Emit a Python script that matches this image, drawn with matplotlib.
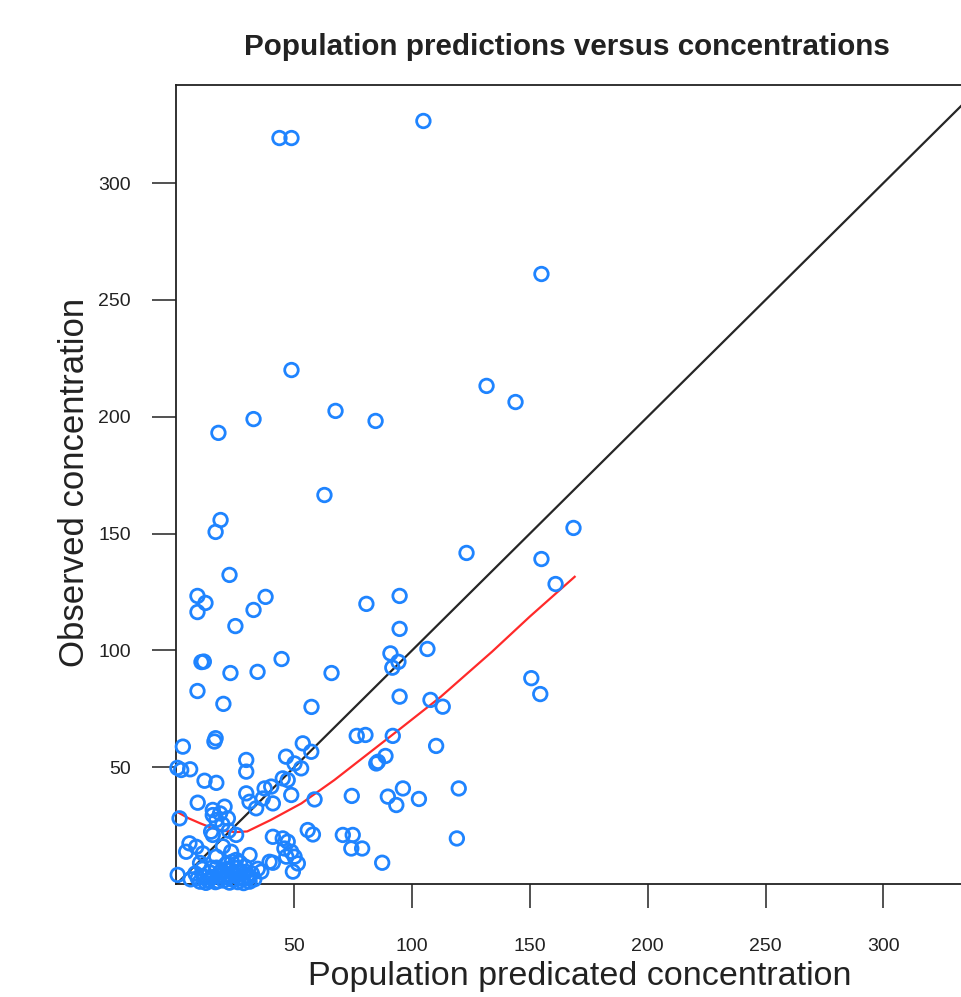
import matplotlib
matplotlib.use("Agg")
import matplotlib.pyplot as plt

# Population-predicted vs observed concentrations
pred = [43.7, 48.8, 104.8, 154.9, 48.8, 131.6, 143.9, 67.5, 84.5, 32.7,
        17.8, 62.8, 18.7, 16.6, 168.5, 123.1, 154.9, 160.9, 22.5, 8.9,
        12.3, 8.9, 37.8, 32.7, 94.7, 80.6, 25.0, 94.7, 106.5, 10.6,
        11.6, 22.9, 34.4, 44.6, 65.8, 8.9, 19.9, 57.3, 90.8, 94.2,
        91.6, 94.7, 107.8, 113.0, 150.6, 154.4, 110.2, 76.5, 80.2, 91.8,
        88.7, 85.5, 84.8, 53.6, 57.2, 52.9, 46.5, 29.6, 29.6, 50.1,
        45.1, 47.2, 40.2, 37.4, 48.7, 29.6, 31.0, 36.6, 40.9, 58.6,
        74.4, 89.7, 96.1, 93.3, 102.9, 119.8, 55.7, 57.9, 70.6, 74.8,
        74.2, 78.8, 119.0, 87.3, 45.1, 47.2, 45.8, 48.7, 50.1, 51.5,
        49.4, 46.6, 2.7, 16.6, 16.1, 2.0, 5.8, 0.4, 11.9, 16.9,
        9.0, 15.4, 20.4, 15.4, 16.9, 21.8, 1.3, 15.4, 25.3, 22.2,
        5.5, 8.4, 4.1, 11.2, 23.2, 31.0, 25.3, 16.9, 40.9, 33.8,
        36.0, 39.5, 40.9, 0.5, 19.7, 14.7, 18.5, 19.5,
        6.0, 8.0, 10.0, 11.0, 12.0, 13.5, 14.0, 15.5, 16.5, 17.0,
        18.0, 19.0, 20.0, 21.0, 22.0, 23.0, 24.0, 25.0, 26.0, 27.0,
        28.0, 29.0, 30.0, 31.0, 32.0, 33.0, 34.5, 23.5, 10.0, 27.0,
        9.0, 12.5, 14.5, 17.5, 20.5, 22.5, 24.5, 26.5, 28.5, 30.5,
        18.5, 21.5, 25.5, 29.5, 15.0]
obs = [319.3, 319.3, 326.6, 261.1, 220.0, 213.2, 206.3, 202.5, 198.2, 199.0,
       193.1, 166.5, 155.8, 150.7, 152.4, 141.7, 139.1, 128.4, 132.3, 123.3,
       120.3, 116.4, 122.9, 117.3, 123.3, 119.9, 110.4, 109.2, 100.6, 95.0,
       95.2, 90.3, 90.8, 96.3, 90.3, 82.6, 77.1, 75.8, 98.7, 95.1,
       92.6, 80.2, 78.8, 75.9, 88.1, 81.3, 59.1, 63.4, 63.8, 63.4,
       54.8, 52.3, 51.6, 60.2, 56.6, 49.5, 54.5, 53.1, 48.1, 51.6,
       45.2, 44.5, 41.7, 40.9, 38.1, 38.8, 35.2, 36.6, 34.5, 36.2,
       37.7, 37.4, 40.9, 33.8, 36.4, 40.9, 23.1, 21.2, 21.0, 21.0,
       15.2, 15.2, 19.5, 9.1, 19.5, 18.1, 15.2, 13.8, 11.7, 8.8,
       5.3, 11.7, 58.8, 62.4, 61.0, 48.8, 49.1, 49.7, 44.2, 43.3,
       34.8, 31.7, 33.1, 29.5, 27.4, 28.1, 28.1, 21.0, 21.0, 22.8,
       17.4, 15.9, 13.8, 13.1, 13.8, 12.4, 10.3, 11.7, 20.2, 32.4,
       5.3, 9.5, 9.1, 3.9, 16.1, 22.4, 30.2, 25.5,
       2.0, 4.5, 1.0, 6.5, 3.0, 1.5, 5.0, 3.0, 0.8, 7.0,
       3.5, 5.5, 1.5, 8.5, 4.0, 6.0, 1.8, 3.5, 0.8, 5.5,
       2.2, 7.5, 3.5, 1.0, 4.5, 2.0, 6.5, 9.5, 9.0, 9.0,
       2.5, 0.5, 2.5, 1.2, 3.0, 0.6, 4.0, 2.8, 0.4, 2.6,
       5.0, 6.5, 6.8, 5.2, 7.0]

# Smoothed trend through the data
trend_x = [0, 5, 10, 15, 20, 25, 30, 40, 53, 67, 81, 95, 112, 134, 150, 169]
trend_y = [31, 28.2, 26, 24, 22.8, 22.2, 22.5, 27.4, 34.5, 44.5, 55.5, 66.5,
           80, 99.5, 114.5, 131.5]

ticks = [50, 100, 150, 200, 250, 300]

plt.rcParams['font.family'] = ['Liberation Sans', 'DejaVu Sans']

W, H = 962, 997
fig = plt.figure(figsize=(W / 100, H / 100), dpi=100)

xmax = 340.0
ymax = 342.0
px_per_x = 2.356
left = 176.5 / W
bottom = (H - 884) / H
top = (H - 85) / H
ax = fig.add_axes([left, bottom, xmax * px_per_x / W, top - bottom])

ax.plot([0, 400], [0, 400], color='#262626', lw=1.6, zorder=2)
ax.plot(trend_x, trend_y, color='#FF2A2A', lw=1.6, zorder=3)
ax.scatter(pred, obs, s=95, facecolors='none', edgecolors='#1F84FF',
           linewidths=2.0, zorder=4, clip_on=False)

ax.set_xlim(0, xmax)
ax.set_ylim(0, ymax)
ax.set_xticks(ticks)
ax.set_yticks(ticks)
ax.set_xticklabels([str(t) for t in ticks])
ax.set_yticklabels([str(t) for t in ticks])
ax.tick_params(axis='both', direction='out', length=17, width=1.1,
               labelsize=14, color='#222222', labelcolor='#222222')
ax.tick_params(axis='x', pad=22)
ax.tick_params(axis='y', pad=16)
for s in ax.spines.values():
    s.set_linewidth(1.3)
    s.set_color('#222222')

fig.text(567 / W, 1 - 47 / H, 'Population predictions versus concentrations',
         ha='center', va='center', fontsize=21.3, fontweight='bold',
         color='#222222')
fig.text(580 / W, 1 - 976 / H, 'Population predicated concentration',
         ha='center', va='center', fontsize=24.5, color='#222222')
fig.text(75 / W, 1 - 482 / H, 'Observed concentration', rotation=90,
         ha='center', va='center', fontsize=25, color='#222222')

fig.savefig('out.png', dpi=100)
